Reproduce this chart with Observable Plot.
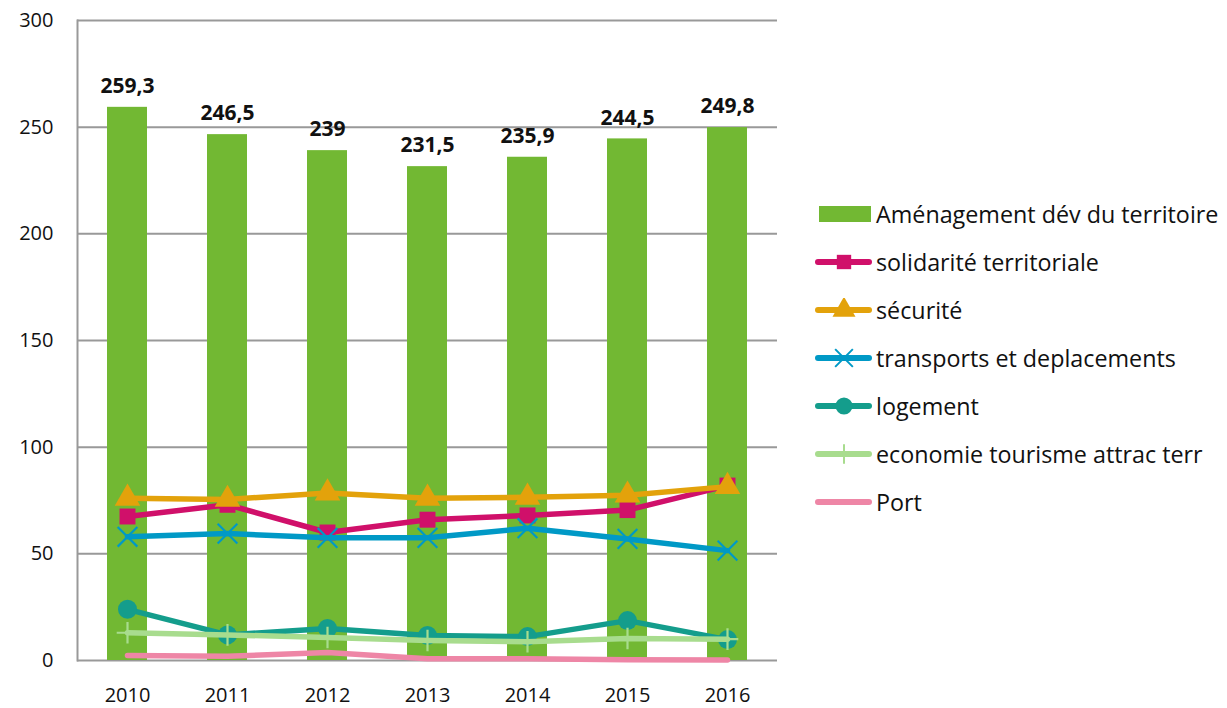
<!DOCTYPE html>
<html>
<head>
<meta charset="utf-8">
<script src="https://cdn.jsdelivr.net/npm/d3@7"></script>
<script src="https://cdn.jsdelivr.net/npm/@observablehq/plot@0.6"></script>
<style>
  html, body { margin: 0; padding: 0; background: #fff; }
  body { width: 1227px; height: 708px; position: relative; overflow: hidden; font-family: "Open Sans", sans-serif; }
  #chart { position: absolute; left: 0; top: 0; }
  #legend { position: absolute; left: 812px; top: 190px; }
  .row { height: 48px; display: flex; align-items: center; font-size: 23.3px; color: #111; white-space: nowrap; }
  .row svg { margin-right: 4px; flex: none; }
</style>
</head>
<body>
<div id="chart"></div>
<div id="legend"></div>
<script>
const years = ["2010", "2011", "2012", "2013", "2014", "2015", "2016"];
const amenagement = [259.3, 246.5, 239, 231.5, 235.9, 244.5, 249.8];
const solidarite = [67.5, 73, 60, 66, 68, 70.5, 82];
const securite = [76, 75.5, 78.5, 76, 76.5, 77.5, 81.5];
const transports = [58, 59.5, 57.5, 57.5, 62, 57, 51.5];
const logement = [24, 12, 15, 11.7, 11.2, 18.7, 9.8];
const economie = [13, 12, 10.8, 9.4, 8.8, 10.3, 10];
const port = [2.3, 2, 3.7, 0.8, 0.8, 0.3, 0.2];
const yTicks = [0, 50, 100, 150, 200, 250, 300];

const seriesDefs = [
  {name: "solidarité territoriale", values: solidarite, color: "#d0106a", symbol: "square", r: 9, filled: true},
  {name: "sécurité", values: securite, color: "#e3a20b", symbol: "triangle", r: 9.5, filled: true},
  {name: "transports et deplacements", values: transports, color: "#0099c6", symbol: "times", r: 9, filled: false},
  {name: "logement", values: logement, color: "#149d8c", symbol: "circle", r: 9.5, filled: true},
  {name: "economie tourisme attrac terr", values: economie, color: "#a8dc8e", symbol: "plus", r: 7, filled: false},
  {name: "Port", values: port, color: "#ee86a6", symbol: null, r: 0, filled: false}
];
const barColor = "#72b833";
const barName = "Aménagement dév du territoire";

const bars = years.map((y, i) => ({year: y, value: amenagement[i]}));
const fmt = v => String(v).replace(".", ",");

const marks = [
  Plot.ruleY(yTicks, {stroke: "#999", strokeWidth: 2}),
  Plot.frame({anchor: "left", stroke: "#999", strokeWidth: 2}),
  Plot.barY(bars, {x: "year", y: "value", fill: barColor}),
  Plot.text(bars, {x: "year", y: "value", text: d => fmt(d.value), dy: -21, fontSize: 21, fontWeight: "bold", fill: "#111"})
];
for (const s of seriesDefs) {
  const data = years.map((y, i) => ({year: y, value: s.values[i]}));
  marks.push(Plot.line(data, {x: "year", y: "value", stroke: s.color, strokeWidth: 5.5, strokeLinecap: "round", strokeLinejoin: "round"}));
  if (s.symbol) {
    if (s.filled) {
      marks.push(Plot.dot(data, {x: "year", y: "value", symbol: () => s.symbol, r: s.r, fill: s.color, stroke: "none"}));
    } else {
      marks.push(Plot.dot(data, {x: "year", y: "value", symbol: () => s.symbol, r: s.r, stroke: s.color, fill: "none", strokeWidth: 2.2}));
    }
  }
}

const chart = Plot.plot({
  width: 790,
  height: 708,
  marginLeft: 77,
  marginRight: 13,
  marginTop: 20,
  marginBottom: 48,
  style: {fontFamily: "Open Sans, sans-serif", fontSize: "20px", color: "#111", background: "transparent"},
  x: {domain: years, paddingInner: 0.6, paddingOuter: 0.3, label: null, tickSize: 0, tickPadding: 27},
  y: {domain: [0, 300], ticks: yTicks, label: null, tickSize: 0, tickPadding: 24},
  marks
});
document.getElementById("chart").appendChild(chart);

// Legend
const legend = document.getElementById("legend");
function addRow(name, svgInner) {
  const row = document.createElement("div");
  row.className = "row";
  row.innerHTML = `<svg width="60" height="24" viewBox="0 0 60 24">${svgInner}</svg><span>${name}</span>`;
  legend.appendChild(row);
}
addRow(barName, `<rect x="7" y="4" width="52" height="16" fill="${barColor}"/>`);
const symPath = (sym, r) => {
  const map = {square: d3.symbolSquare, triangle: d3.symbolTriangle, times: d3.symbolTimes, circle: d3.symbolCircle, plus: d3.symbolPlus};
  return d3.symbol(map[sym], Math.PI * r * r)();
};
for (const s of seriesDefs) {
  let inner = `<line x1="6" y1="12" x2="57" y2="12" stroke="${s.color}" stroke-width="6" stroke-linecap="round"/>`;
  if (s.symbol) {
    const p = symPath(s.symbol, s.r * 0.9);
    inner += s.filled
      ? `<path transform="translate(32,12)" d="${p}" fill="${s.color}"/>`
      : `<path transform="translate(32,12)" d="${p}" fill="none" stroke="${s.color}" stroke-width="2"/>`;
  }
  addRow(s.name, inner);
}
</script>
</body>
</html>
